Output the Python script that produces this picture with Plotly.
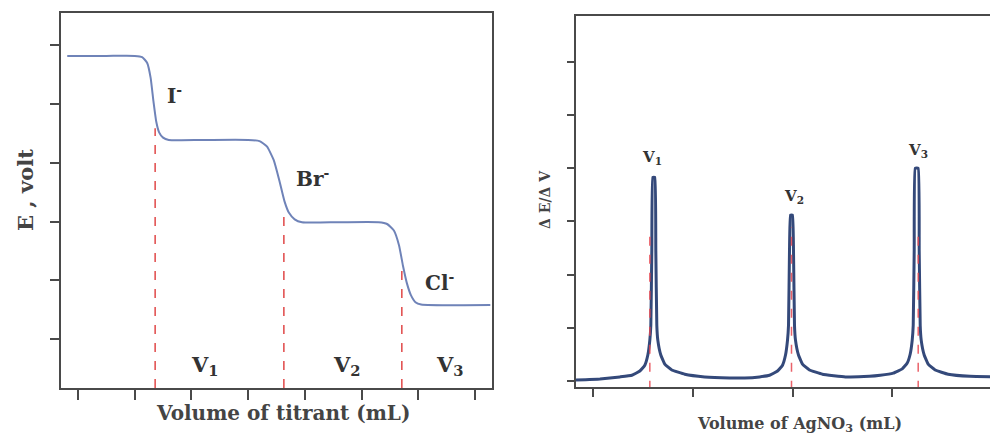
import plotly.graph_objects as go

# ---------------- Left panel data: potential vs volume of titrant ----------------
titrant_volume = [-0.19, 0.5, 1.0, 1.13, 1.22, 1.28, 1.33, 1.38, 1.43, 1.50, 1.60, 2.2, 3.0, 3.2,
                  3.33, 3.45, 3.55, 3.64, 3.72, 3.82, 3.95, 4.6, 5.3, 5.45, 5.57, 5.66, 5.73,
                  5.80, 5.87, 5.95, 6.05, 7.27]
potential_E = [5.82, 5.82, 5.82, 5.80, 5.70, 5.45, 5.05, 4.70, 4.52, 4.43, 4.39, 4.39, 4.39, 4.37,
               4.28, 4.05, 3.70, 3.35, 3.15, 3.04, 2.99, 2.99, 2.99, 2.96, 2.85, 2.60, 2.25,
               1.95, 1.75, 1.63, 1.59, 1.58]
endpoint_volumes_left = [1.36, 3.63, 5.71]
endpoint_E_left = [4.59, 3.20, 2.26]
halide_labels = ["I<sup>-</sup>", "Br<sup>-</sup>", "Cl<sup>-</sup>"]
halide_label_x = [1.71, 4.13, 6.38]
halide_label_y = [5.16, 3.74, 1.97]
vol_labels = ["V<sub>1</sub>", "V<sub>2</sub>", "V<sub>3</sub>"]
vol_label_x_left = [2.24, 4.74, 6.56]
vol_label_y_left = 0.56
left_xticks = [0, 1, 2, 3, 4, 5, 6, 7]
left_yticks = [1, 2, 3, 4, 5, 6]

# ---------------- Right panel data: first derivative ----------------
agno3_volume = [-0.17, 0.07, 0.27, 0.39, 0.47, 0.52, 0.55, 0.57, 0.58, 0.59, 0.60, 0.62, 0.63,
                0.64, 0.65, 0.68, 0.72, 0.79, 0.92, 1.12, 1.37,
                1.52, 1.67, 1.77, 1.85, 1.90, 1.93, 1.95, 1.96, 1.97, 1.98, 2.00, 2.01, 2.02,
                2.03, 2.06, 2.10, 2.17, 2.30, 2.53, 2.77,
                2.88, 3.01, 3.10, 3.15, 3.18, 3.20, 3.21, 3.22, 3.23, 3.26, 3.27, 3.28, 3.29,
                3.32, 3.36, 3.43, 3.56, 3.78, 4.14]
dE_dV = [0.02, 0.04, 0.08, 0.11, 0.19, 0.30, 0.49, 0.77, 1.05, 2.46, 3.83, 3.83, 2.46,
         1.05, 0.77, 0.49, 0.32, 0.21, 0.13, 0.08, 0.06,
         0.06, 0.08, 0.11, 0.19, 0.30, 0.49, 0.77, 1.05, 2.46, 3.12, 3.12, 2.46, 1.05,
         0.77, 0.49, 0.32, 0.21, 0.13, 0.08, 0.09,
         0.11, 0.15, 0.23, 0.34, 0.51, 0.77, 1.05, 2.46, 4.00, 4.00, 2.46, 1.05, 0.77,
         0.49, 0.32, 0.21, 0.13, 0.09, 0.08]
endpoint_volumes_right = [0.57, 1.99, 3.26]
endpoint_top_right = [2.78, 2.89, 2.78]
peak_label_x = [0.59, 2.02, 3.26]
peak_label_y = [4.21, 3.46, 4.34]
right_xticks = [0, 1, 2, 3, 4]
right_yticks = [0, 1, 2, 3, 4, 5, 6]

LEFT_YRANGE = [0.17, 6.55]
LEFT_XRANGE = [-0.3, 7.3]
RIGHT_YRANGE = [-0.11, 6.86]
RIGHT_XRANGE = [-0.17, 4.14]

W, H = 998, 436
OFF = 8  # page body margin offset
SERIF = "DejaVu Serif"
TXT = "#333333"
AX = "#4a4a4a"


def px(xp):
    return (xp - OFF) / W


def py(yp):
    return 1 - (yp - OFF) / H


fig = go.Figure()

fig.add_trace(go.Scatter(x=titrant_volume, y=potential_E, mode="lines",
                         line=dict(color="#6f83b8", width=2, shape="spline", smoothing=0.5),
                         xaxis="x", yaxis="y", showlegend=False, hoverinfo="skip"))
for xv, yv in zip(endpoint_volumes_left, endpoint_E_left):
    fig.add_trace(go.Scatter(x=[xv, xv], y=[LEFT_YRANGE[0], yv], mode="lines",
                             line=dict(color="#e04848", width=1.5, dash="dash"),
                             xaxis="x", yaxis="y", showlegend=False, hoverinfo="skip"))

fig.add_trace(go.Scatter(x=agno3_volume, y=dE_dV, mode="lines",
                         line=dict(color="#34497a", width=3, shape="spline", smoothing=0.3),
                         xaxis="x2", yaxis="y2", showlegend=False, hoverinfo="skip"))
for xv, yv in zip(endpoint_volumes_right, endpoint_top_right):
    fig.add_trace(go.Scatter(x=[xv, xv], y=[RIGHT_YRANGE[0] - 0.05, yv], mode="lines",
                             line=dict(color="rgba(230,70,80,0.85)", width=1.5, dash="dash"),
                             xaxis="x2", yaxis="y2", showlegend=False, hoverinfo="skip",
                             cliponaxis=False))

annotations = []
for t, xv, yv in zip(halide_labels, halide_label_x, halide_label_y):
    annotations.append(dict(x=xv, y=yv, xref="x", yref="y", text="<b>" + t + "</b>",
                            showarrow=False, font=dict(family=SERIF, size=20, color=TXT)))
for t, xv in zip(vol_labels, vol_label_x_left):
    annotations.append(dict(x=xv, y=vol_label_y_left, xref="x", yref="y", text="<b>" + t + "</b>",
                            showarrow=False, font=dict(family=SERIF, size=21, color=TXT)))
for t, xv, yv in zip(vol_labels, peak_label_x, peak_label_y):
    annotations.append(dict(x=xv, y=yv, xref="x2", yref="y2", text="<b>" + t + "</b>",
                            showarrow=False, font=dict(family=SERIF, size=15, color=TXT)))

annotations.append(dict(x=px(283), y=py(413), xref="paper", yref="paper",
                        xanchor="center", yanchor="middle",
                        text="<b>Volume of titrant (mL)</b>", showarrow=False,
                        font=dict(family=SERIF, size=20, color="#444444")))
annotations.append(dict(x=px(25), y=py(190), xref="paper", yref="paper",
                        xanchor="center", yanchor="middle",
                        text="<b>E , volt</b>", showarrow=False, textangle=-90,
                        font=dict(family=SERIF, size=21, color="#444444")))
annotations.append(dict(x=px(799), y=py(424), xref="paper", yref="paper",
                        xanchor="center", yanchor="middle",
                        text="<b>Volume of AgNO<sub>3</sub> (mL)</b>", showarrow=False,
                        font=dict(family=SERIF, size=16, color="#444444")))
annotations.append(dict(x=px(545), y=py(200), xref="paper", yref="paper",
                        xanchor="center", yanchor="middle",
                        text="<b>Δ E/Δ V</b>", showarrow=False, textangle=-90,
                        font=dict(family=SERIF, size=14, color="#444444")))

axis_common = dict(showgrid=False, zeroline=False, showline=True, linecolor=AX,
                   ticks="outside", tickcolor=AX, showticklabels=False, fixedrange=True)

fig.update_layout(
    width=W, height=H,
    margin=dict(l=0, r=0, t=0, b=0),
    paper_bgcolor="white", plot_bgcolor="white",
    xaxis=dict(domain=[px(61), px(492)], range=LEFT_XRANGE, tickvals=left_xticks,
               mirror=True, linewidth=2, ticklen=10, tickwidth=1.5, anchor="y", **axis_common),
    yaxis=dict(domain=[py(388), py(13)], range=LEFT_YRANGE, tickvals=left_yticks,
               mirror=True, linewidth=2, ticklen=9, tickwidth=1.5, anchor="x", **axis_common),
    xaxis2=dict(domain=[px(576), 1.0], range=RIGHT_XRANGE, tickvals=right_xticks,
                mirror=True, linewidth=2, ticklen=8, tickwidth=1.5, anchor="y2", **axis_common),
    yaxis2=dict(domain=[py(387), py(16)], range=RIGHT_YRANGE, tickvals=right_yticks,
                mirror=False, linewidth=2, ticklen=7, tickwidth=1.5, anchor="x2", **axis_common),
    annotations=annotations,
)

fig.write_html("out.html")
